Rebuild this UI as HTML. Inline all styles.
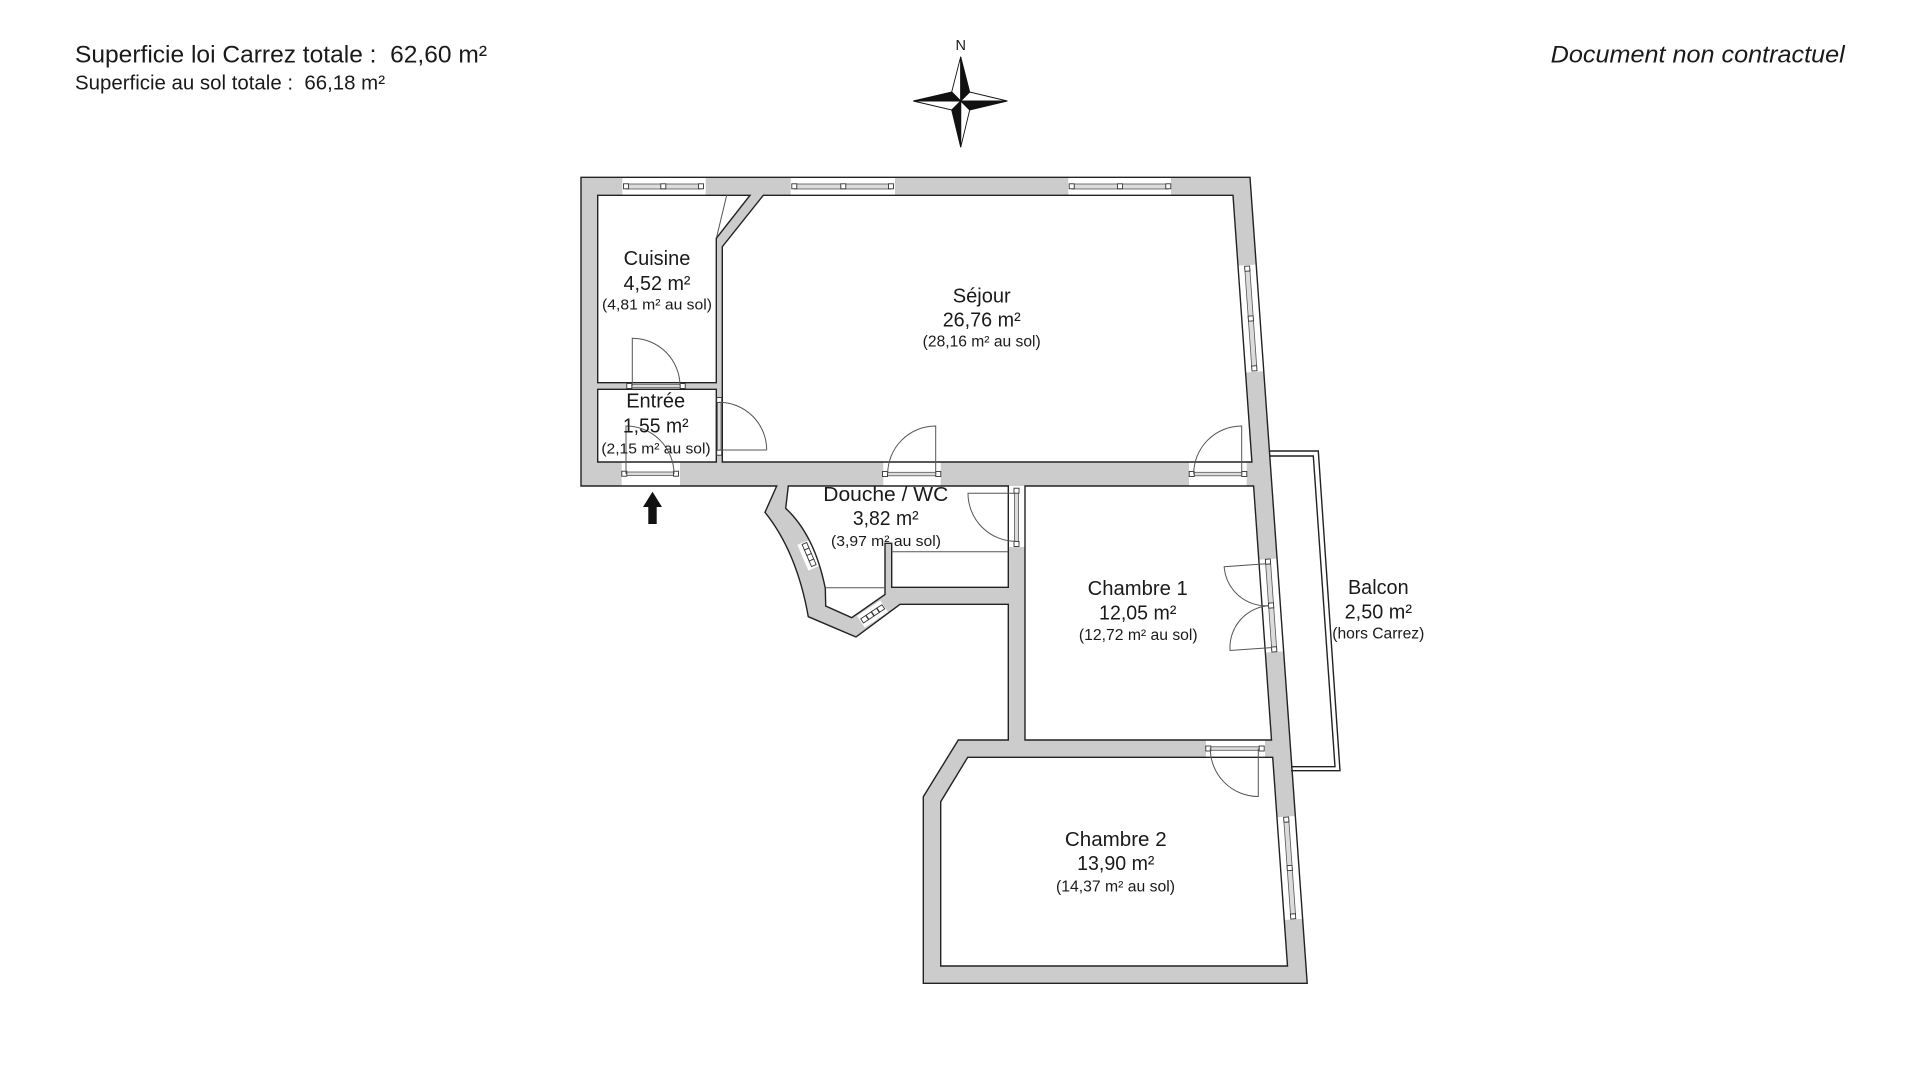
<!DOCTYPE html>
<html>
<head>
<meta charset="utf-8">
<style>
html,body{margin:0;padding:0;background:#fff;}
svg{display:block;}
text{font-family:"Liberation Sans",Arial,sans-serif;fill:#1a1a1a;white-space:pre;}
</style>
</head>
<body>
<svg width="1920" height="1080" viewBox="0 0 1920 1080" xmlns="http://www.w3.org/2000/svg">
<rect x="0" y="0" width="1920" height="1080" fill="#fff"/>

<!-- Header -->
<text x="75" y="62.7" font-size="24.5" textLength="412" lengthAdjust="spacingAndGlyphs">Superficie loi Carrez totale :  62,60 m²</text>
<text x="75" y="89.3" font-size="20" textLength="310" lengthAdjust="spacingAndGlyphs">Superficie au sol totale :  66,18 m²</text>
<text x="1550.7" y="62.3" font-size="24" font-style="italic" textLength="294" lengthAdjust="spacingAndGlyphs">Document non contractuel</text>

<!-- Compass -->
<text x="960.7" y="50" font-size="14.5" text-anchor="middle">N</text>
<g stroke="#111" stroke-width="0.9" stroke-linejoin="miter">
  <polygon points="960.7,56.7 951.7,92 960.7,101" fill="#fff"/>
  <polygon points="960.7,56.7 969.7,92 960.7,101" fill="#111"/>
  <polygon points="1007.3,101 969.7,92 960.7,101" fill="#fff"/>
  <polygon points="1007.3,101 969.7,110 960.7,101" fill="#111"/>
  <polygon points="960.7,147.3 969.7,110 960.7,101" fill="#fff"/>
  <polygon points="960.7,147.3 951.7,110 960.7,101" fill="#111"/>
  <polygon points="913.3,101 951.7,110 960.7,101" fill="#fff"/>
  <polygon points="913.3,101 951.7,92 960.7,101" fill="#111"/>
</g>

<!-- Layer 1: walls fill -->
<path id="outer" d="M581,177.3 L1250,177.3 L1307.2,983.3 L923.3,983.3 L923.3,796.7 L958.3,740 L1008.3,740 L1008.3,604.3 L900,604.3 L856,637 L808.3,616.7 Q796.9,552.1 765,512.3 L776.7,486 L581,486 Z" fill="#cccccc"/>

<!-- Layer 2: white patches for windows and doors -->
<g fill="#fff">
  <rect x="622.3" y="177.3" width="83.4" height="18"/>
  <rect x="790.7" y="177.3" width="104.3" height="18"/>
  <rect x="1068.3" y="177.3" width="102.7" height="18"/>
  <rect x="621.7" y="462" width="58.3" height="24"/>
  <rect x="883.3" y="462" width="57.4" height="24"/>
  <rect x="1189" y="462" width="57.7" height="24"/>
  <rect x="627" y="382.7" width="58" height="6.6"/>
  <rect x="716.3" y="398" width="6" height="57"/>
  <rect x="1008.3" y="486" width="16.7" height="61"/>
  <rect x="1206" y="740" width="59" height="17.3"/>
  <g transform="rotate(-4.04 1250.8 318.5)"><rect x="1241.6" y="265" width="18.4" height="107"/></g>
  <g transform="rotate(-4.04 1271.1 605.5)"><rect x="1261.9" y="559" width="18.4" height="93"/></g>
  <g transform="rotate(-4.04 1289.7 868)"><rect x="1280.5" y="816.5" width="18.4" height="103"/></g>
  <g transform="rotate(-23.1 809.3 555)"><rect x="802.3" y="541" width="14" height="28"/></g>
  <g transform="rotate(-33.8 872.5 614)"><rect x="858.5" y="607" width="28" height="14"/></g>
</g>

<!-- Layer 3: rooms -->
<g fill="#fff" stroke="#222" stroke-width="1.4" stroke-linejoin="miter">
  <polygon points="597.7,195.3 750,195.3 716.3,238.3 716.3,382.7 597.7,382.7"/>
  <polygon points="763.3,195.3 1233,195.3 1251.9,462 722.3,462 722.3,246.7"/>
  <polygon points="597.7,389.3 716.3,389.3 716.3,462 597.7,462"/>
  <path d="M788.3,486 L1008.3,486 L1008.3,587.3 L891.7,587.3 L891.7,543.3 L885,543.3 L885,594.5 L851.7,617.7 L825.7,606 L825.3,588.3 Q814.6,535.1 785.7,508.3 Z"/>
  <polygon points="1025,486 1253.6,486 1271.5,740 1025,740"/>
  <polygon points="967.7,757.3 1272.7,757.3 1287.5,966 940.7,966 940.7,801.7"/>
</g>
<!-- outer stroke -->
<path d="M581,177.3 L1250,177.3 L1307.2,983.3 L923.3,983.3 L923.3,796.7 L958.3,740 L1008.3,740 L1008.3,604.3 L900,604.3 L856,637 L808.3,616.7 Q796.9,552.1 765,512.3 L776.7,486 L581,486 Z" fill="none" stroke="#222" stroke-width="1.4"/>

<!-- Balcony -->
<g fill="none" stroke="#222" stroke-width="1.4">
  <polyline points="1269,451 1318.3,451 1340,770.7 1291,770.7"/>
  <polyline points="1269,456 1313.3,456 1335,766.7 1291,766.7"/>
</g>

<!-- Misc thin lines -->
<g stroke="#555" stroke-width="1" fill="none">
  <line x1="726.7" y1="195.3" x2="716.7" y2="236.7"/>
  <line x1="825.7" y1="587.7" x2="885" y2="587.7"/>
  <line x1="891.7" y1="551.7" x2="1008.3" y2="551.7"/>
</g>

<!-- Window / door bars -->
<g fill="#dcdcdc" stroke="#555" stroke-width="0.8">
  <rect x="626" y="184" width="75" height="5"/>
  <rect x="794.3" y="184" width="96.7" height="5"/>
  <rect x="1071.7" y="184" width="96.6" height="5"/>
  <rect x="624.3" y="472" width="51.7" height="3.5"/>
  <rect x="885" y="472.3" width="53.3" height="3.5"/>
  <rect x="1191.7" y="472.3" width="52.6" height="3.5"/>
  <rect x="629.3" y="384.3" width="53.4" height="3.4"/>
  <rect x="717.5" y="400" width="3.5" height="52.7"/>
  <rect x="1014.5" y="490.7" width="4" height="53.3"/>
  <rect x="1208.3" y="746.8" width="53.4" height="3.5"/>
  <g transform="rotate(-4.04 1250.8 318.5)"><rect x="1248.3" y="268.5" width="5" height="100"/></g>
  <g transform="rotate(-4.04 1271.1 605.5)"><rect x="1268.6" y="561.5" width="5" height="88"/></g>
  <g transform="rotate(-4.04 1289.7 868)"><rect x="1287.2" y="819.5" width="5" height="97"/></g>
</g>
<g fill="#fff" stroke="#333" stroke-width="0.9">
  <!-- top windows -->
  <rect x="623.5" y="183.8" width="5" height="5"/><rect x="660.8" y="183.8" width="5" height="5"/><rect x="698.5" y="183.8" width="5" height="5"/>
  <rect x="791.8" y="183.8" width="5" height="5"/><rect x="840.8" y="183.8" width="5" height="5"/><rect x="888.5" y="183.8" width="5" height="5"/>
  <rect x="1069.2" y="183.8" width="5" height="5"/><rect x="1117.5" y="183.8" width="5" height="5"/><rect x="1165.8" y="183.8" width="5" height="5"/>
  <!-- door thresholds -->
  <rect x="621.8" y="471.2" width="5" height="5"/><rect x="673.5" y="471.2" width="5" height="5"/>
  <rect x="882.5" y="471.5" width="5" height="5"/><rect x="935.8" y="471.5" width="5" height="5"/>
  <rect x="1189.2" y="471.5" width="5" height="5"/><rect x="1241.8" y="471.5" width="5" height="5"/>
  <rect x="626.8" y="383.5" width="5" height="5"/><rect x="680.2" y="383.5" width="5" height="5"/>
  <rect x="716.7" y="397.5" width="5" height="5"/><rect x="716.7" y="450.2" width="5" height="5"/>
  <rect x="1014" y="488.2" width="5" height="5"/><rect x="1014" y="541.5" width="5" height="5"/>
  <rect x="1205.8" y="746" width="5" height="5"/><rect x="1259.2" y="746" width="5" height="5"/>
  <g transform="rotate(-4.04 1250.8 318.5)">
    <rect x="1248.3" y="266" width="5" height="5"/><rect x="1248.3" y="316" width="5" height="5"/><rect x="1248.3" y="366" width="5" height="5"/>
  </g>
  <g transform="rotate(-4.04 1271.1 605.5)">
    <rect x="1268.6" y="559" width="5" height="5"/><rect x="1268.6" y="603" width="5" height="5"/><rect x="1268.6" y="647" width="5" height="5"/>
  </g>
  <g transform="rotate(-4.04 1289.7 868)">
    <rect x="1287.2" y="817" width="5" height="5"/><rect x="1287.2" y="865.5" width="5" height="5"/><rect x="1287.2" y="914" width="5" height="5"/>
  </g>
  <g transform="rotate(-23.1 809.3 555)">
    <rect x="806.8" y="542.5" width="5" height="6"/><rect x="806.8" y="548.5" width="5" height="6"/><rect x="806.8" y="554.5" width="5" height="6"/><rect x="806.8" y="560.5" width="5" height="6"/>
  </g>
  <g transform="rotate(-33.8 872.5 614)">
    <rect x="860" y="611.5" width="6" height="5"/><rect x="866.5" y="611.5" width="6" height="5"/><rect x="873" y="611.5" width="6" height="5"/><rect x="879.5" y="611.5" width="6" height="5"/>
  </g>
</g>

<!-- Door leaves and swings -->
<g fill="none" stroke="#555" stroke-width="1">
  <path d="M632.3,386 V338.3 A47.7,47.7 0 0 1 680,386"/>
  <path d="M719,450 H766.7 M719,402.3 A47.7,47.7 0 0 1 766.7,450"/>
  <path d="M626,474 V426 A48,48 0 0 1 674,474"/>
  <path d="M935.7,474 V426 A48,48 0 0 0 887.7,474"/>
  <path d="M1241.7,474 V426 A48,48 0 0 0 1193.7,474"/>
  <path d="M1016,493.3 H968 A48,48 0 0 0 1016,541.3"/>
  <path d="M1258.3,748.5 V796.5 A48,48 0 0 1 1210.3,748.5"/>
  <g transform="rotate(-4.04 1271.1 605.5)">
    <path d="M1269,563.5 H1227 A42,42 0 0 0 1269,605.5"/>
    <path d="M1269,647.5 H1227 A42,42 0 0 1 1269,605.5"/>
  </g>
</g>

<!-- Entry arrow -->
<polygon points="652.5,491.7 662,507 656.7,507 656.7,524 648.3,524 648.3,507 643,507" fill="#111"/>

<!-- Room labels -->
<g text-anchor="middle">
  <text x="657" y="265" font-size="20" textLength="66.7" lengthAdjust="spacingAndGlyphs">Cuisine</text>
  <text x="657" y="290" font-size="20" textLength="67" lengthAdjust="spacingAndGlyphs">4,52 m²</text>
  <text x="657" y="309.3" font-size="15" textLength="110" lengthAdjust="spacingAndGlyphs">(4,81 m² au sol)</text>

  <text x="981.7" y="302.7" font-size="20" textLength="58" lengthAdjust="spacingAndGlyphs">Séjour</text>
  <text x="981.7" y="326.7" font-size="20" textLength="78" lengthAdjust="spacingAndGlyphs">26,76 m²</text>
  <text x="981.7" y="346.7" font-size="15.5" textLength="118" lengthAdjust="spacingAndGlyphs">(28,16 m² au sol)</text>

  <text x="655.7" y="407.3" font-size="20" textLength="59" lengthAdjust="spacingAndGlyphs">Entrée</text>
  <text x="655.7" y="432.7" font-size="20" textLength="65.7" lengthAdjust="spacingAndGlyphs">1,55 m²</text>
  <text x="656" y="453.3" font-size="15" textLength="109.3" lengthAdjust="spacingAndGlyphs">(2,15 m² au sol)</text>

  <text x="885.8" y="501" font-size="20" textLength="125" lengthAdjust="spacingAndGlyphs">Douche / WC</text>
  <text x="885.7" y="525" font-size="20" textLength="65.7" lengthAdjust="spacingAndGlyphs">3,82 m²</text>
  <text x="886" y="546" font-size="15" textLength="110" lengthAdjust="spacingAndGlyphs">(3,97 m² au sol)</text>

  <text x="1137.7" y="595" font-size="20" textLength="100" lengthAdjust="spacingAndGlyphs">Chambre 1</text>
  <text x="1137.7" y="619.3" font-size="20" textLength="77.3" lengthAdjust="spacingAndGlyphs">12,05 m²</text>
  <text x="1138.3" y="640" font-size="15.5" textLength="118.7" lengthAdjust="spacingAndGlyphs">(12,72 m² au sol)</text>

  <text x="1378.3" y="594" font-size="20" textLength="60.7" lengthAdjust="spacingAndGlyphs">Balcon</text>
  <text x="1378.3" y="618.3" font-size="20" textLength="67.3" lengthAdjust="spacingAndGlyphs">2,50 m²</text>
  <text x="1378.3" y="638.3" font-size="15.5" textLength="92" lengthAdjust="spacingAndGlyphs">(hors Carrez)</text>

  <text x="1115.8" y="846" font-size="20" textLength="101.7" lengthAdjust="spacingAndGlyphs">Chambre 2</text>
  <text x="1115.8" y="870" font-size="20" textLength="77.3" lengthAdjust="spacingAndGlyphs">13,90 m²</text>
  <text x="1115.5" y="891.7" font-size="15.5" textLength="119" lengthAdjust="spacingAndGlyphs">(14,37 m² au sol)</text>
</g>
</svg>
</body>
</html>
